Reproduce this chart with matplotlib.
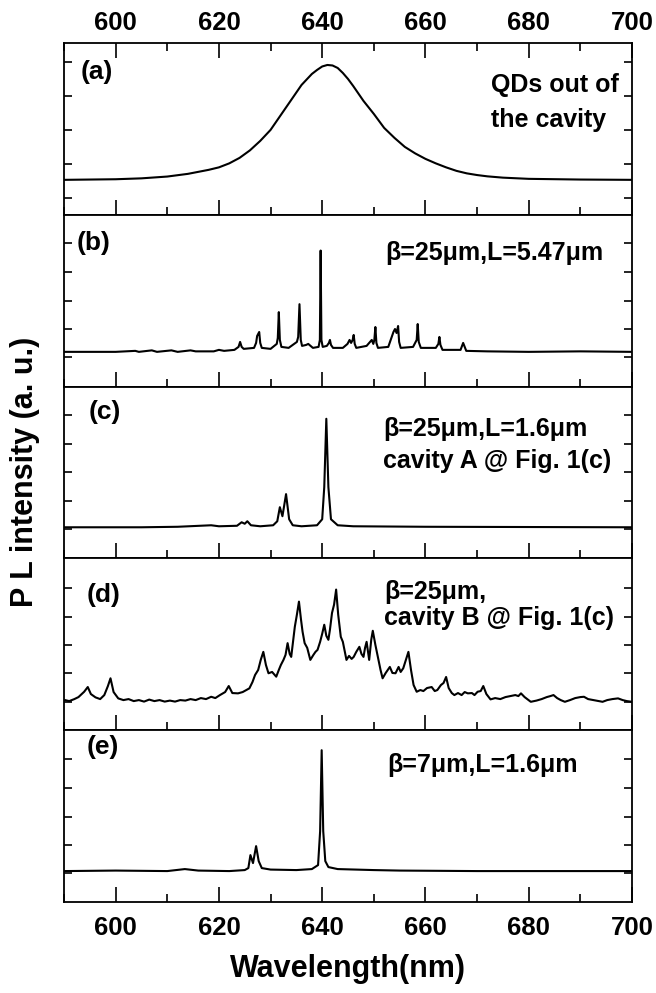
import matplotlib
matplotlib.use("Agg")
from matplotlib import pyplot as plt
from matplotlib.ticker import MultipleLocator

plt.rcParams['font.family'] = ['Liberation Sans', 'DejaVu Sans']
plt.rcParams['font.weight'] = 'bold'

# (a) QDs out of the cavity
wl_a = [590, 595, 600, 605, 610, 614, 618, 620, 622, 624, 626, 628, 630, 632, 634, 636, 638, 639,
        640, 641, 642, 643, 644, 645, 646, 648, 650, 652, 654, 656, 658, 660, 662, 664, 666, 668,
        670, 672, 675, 680, 690, 700]
pl_a = [0, 0.3, 0.6, 1.5, 3.3, 6, 10, 12.5, 16.5, 22, 29.5, 39, 50, 65, 80, 95, 106, 110,
        113.5, 115, 114.5, 112, 107, 101, 94, 79, 66, 52, 42, 33, 26.5, 21, 16.5, 12.5, 9, 6.5,
        4.8, 3.5, 2.2, 1, 0.3, 0]

# (b) beta=25um, L=5.47um
wl_b = [590, 600, 603.8, 604.5, 607, 608, 610.8, 612, 614.5, 615.5, 619, 620, 621, 623, 623.8, 624.1, 624.4,
        624.8, 626.8, 627.2, 627.4, 627.6, 627.8, 628.0, 628.3, 630, 631.2, 631.4, 631.6, 631.8, 632.1,
        633.5, 635.1, 635.35, 635.6, 635.85, 636.1, 636.9, 637.3, 638.2, 639.3, 639.55, 639.7, 639.85,
        640.1, 640.9, 641.3, 641.5, 641.7, 642.1, 644, 644.9, 645.3, 645.6, 645.9, 646.1, 646.3, 646.6,
        648.6, 649.6, 649.9, 650.1, 650.3, 650.5, 650.8, 652.8, 653.8, 654.1, 654.4, 654.7, 654.9, 655.2,
        657.6, 658.3, 658.5, 658.7, 659.1, 662.0, 662.5, 662.7, 662.9, 663.3, 666.8, 667.3, 667.9, 672,
        680, 690, 700]
pl_b = [0, 0, 1, 0, 1.5, 0, 1.5, 0, 1.5, 0.5, 0.5, 2, 1, 2, 5, 10, 5,
        3, 4, 9, 16, 18, 20, 9, 4, 3, 8, 14, 40, 12, 5,
        4, 10, 15, 48, 12, 6, 7, 8, 4, 5, 12, 102, 12,
        5, 6, 9, 12, 7, 4, 4, 8, 12, 9, 12, 17, 8, 4,
        6, 12, 8, 12, 25, 9, 4, 5, 20, 23, 19, 26, 10, 4,
        5, 12, 28, 10, 4, 4, 8, 15, 7, 2, 2, 9, 1, 0.5,
        0, 0.5, 0]

# (c) beta=25um, L=1.6um, cavity A
wl_c = [590, 605, 612, 618.5, 620, 623.5, 624.4, 625, 625.5, 626.2, 628, 630.5, 631.3, 631.8, 632.3,
        633.0, 633.6, 634.3, 636, 639, 640, 640.4, 640.8, 641.2, 641.7, 643, 646, 660, 700]
pl_c = [0, 0, 0.5, 2, 1, 1.5, 5, 3.5, 6, 2, 1, 2, 6, 20, 11,
        33, 8, 2, 1, 2, 8, 40, 108, 40, 8, 2, 1, 0.5, 0]

# (d) beta=25um, cavity B
wl_d = [590.2, 591, 592, 592.8, 593.9, 594.6, 595.2, 596.1, 597, 597.8, 598.5, 599.0, 599.6, 600.5,
        601.5, 602.5, 603.5, 604.5, 605.5, 606.5, 607.5, 608.5, 609.5, 610.5, 611.5, 612.5, 613.5,
        614.5, 615.5, 616.5, 617.5, 618.5, 619.3, 620.2, 621.2, 621.9, 622.6, 623.7, 624.6, 625.3,
        625.9, 626.5, 627.0, 627.6, 628.1, 628.6, 629.1, 629.6, 630.3, 631.1, 631.6, 632.0, 632.5,
        632.9, 633.3, 633.7, 634.0, 634.4, 634.7, 635.1, 635.5, 635.9, 636.2, 636.6, 637.1, 637.7,
        638.3, 638.7, 639.1, 639.6, 640.0, 640.4, 640.8, 641.2, 641.5, 641.9, 642.3, 642.7, 643.1,
        643.6, 644.0, 644.4, 644.7, 645.2, 645.7, 646.1, 646.6, 647.2, 647.6, 648.0, 648.3, 648.6,
        649.1, 649.5, 649.8, 650.3, 650.9, 651.3, 651.7, 652.3, 652.7, 653.1, 653.6, 654.2, 654.8,
        655.2, 655.7, 656.2, 656.7, 657.2, 657.7, 658.3, 659.0, 659.6, 660.3, 661.2, 661.8, 662.3,
        663.0, 663.5, 664.0, 664.5, 665.1, 665.6, 666.3, 667.0, 667.6, 668.2, 669.0, 669.5, 670.1,
        670.7, 671.2, 671.8, 672.6, 673.5, 674.5, 675.5, 676.5, 677.4, 678.0, 678.5, 679.2, 680.4,
        681.5, 682.5, 683.5, 684.2, 684.8, 685.5, 686.2, 687.0, 688, 689, 690.0, 690.7, 691.5, 692.5,
        693.5, 694.3, 695.2, 696.2, 697.3, 698.2, 699.0, 700]
pl_d = [0, -1, 1, 3, 8.3, 13, 6, 2.7, 1, 5, 14, 21.7, 8, 1.7,
        0, 1, -1, 0, -1.5, 0.5, -1, 0, -1.5, -0.5, -1.5, 0, -0.5,
        1, 0, 2, 1, 3.3, 2, 5, 8, 14, 7, 6.7, 8, 10,
        11.7, 18, 25, 30, 40, 48, 35, 26.7, 28, 23.3, 30, 35, 40,
        45, 56.7, 46, 43, 60, 73, 85, 98, 80, 68, 56.7, 52, 40,
        45, 48, 50, 58, 66, 75, 64, 60, 70, 86.7, 95, 110, 85,
        63, 58, 48, 40, 44, 41, 43, 48, 53, 46, 43, 52, 58,
        40, 60, 69, 55, 40, 30, 21.7, 27, 30, 33, 27, 26.7, 33,
        28, 31.7, 40, 48, 30, 15, 8.3, 10, 9, 12, 13, 9, 10,
        15, 17, 23, 12, 7, 5, 7, 5, 8, 6.7, 7, 5, 8.3,
        9, 14, 6, 0.7, 2, 1, 3, 4, 5, 4, 6.7, 3, -1.7,
        -0.5, 1, 3, 4, 5, 2, 0, -1.7, 0, 2, 3, 3.3, 1, 0,
        -1, -1.7, 0, 1, 1.7, 0, -1, -1.7]

# (e) beta=7um, L=1.6um
wl_e = [590, 600, 610, 613.4, 616, 622, 625, 625.7, 626.1, 626.6, 627.2, 627.7, 628.3, 630, 635, 638,
        639.2, 639.6, 639.9, 640.2, 640.6, 641.2, 643, 650, 655, 670, 700]
pl_e = [0, 0.5, 0, 2, 0.5, 0, 1, 3, 16, 8, 25, 10, 3, 1.5, 1, 2,
        6, 40, 121, 40, 10, 4, 2, 1, 0.5, 0, 0]

series = [(wl_a, pl_a), (wl_b, pl_b), (wl_c, pl_c), (wl_d, pl_d), (wl_e, pl_e)]
ylims = [(-35, 137), (-35, 138), (-31, 140), (-30, 141), (-31, 141)]
yticks = [[-18, 16, 50, 84, 118], [-5, 23, 51, 80, 110], [-2, 26, 55, 83, 112],
          [-2, 27, 55, 83, 112], [-2, 26, 54, 83, 112]]
panel_labels = ["(a)", "(b)", "(c)", "(d)", "(e)"]
label_pos = [(0.030, 0.831), (0.023, 0.838), (0.044, 0.854), (0.040, 0.789), (0.040, 0.901)]
notes = [
    [("QDs out of", 0.752, 0.756), ("the cavity", 0.752, 0.552)],
    [("β=25μm,L=5.47μm", 0.565, 0.78)],
    [("β=25μm,L=1.6μm", 0.562, 0.754), ("cavity A @ Fig. 1(c)", 0.562, 0.567)],
    [("β=25μm,", 0.564, 0.805), ("cavity B @ Fig. 1(c)", 0.564, 0.652)],
    [("β=7μm,L=1.6μm", 0.569, 0.797)],
]

fig, axes = plt.subplots(5, 1, figsize=(6.56, 9.93), dpi=100, sharex=True)
fig.subplots_adjust(left=0.0976, right=0.9634, top=0.9567, bottom=0.0916, hspace=0)

for i, ax in enumerate(axes):
    x, y = series[i]
    ax.plot(x, y, color='black', lw=1.5)
    ax.set_xlim(590, 700)
    ax.set_ylim(*ylims[i])
    ax.set_yticks(yticks[i])
    ax.set_yticklabels([])
    ax.xaxis.set_major_locator(MultipleLocator(20))
    ax.xaxis.set_minor_locator(MultipleLocator(10))
    ax.tick_params(axis='x', which='major', direction='in', length=11, width=1.2,
                   top=(i == 0), bottom=True, labeltop=(i == 0), labelbottom=(i == 4),
                   labelsize=18.5, pad=10)
    ax.tick_params(axis='x', which='minor', direction='in', length=6, width=1.2,
                   top=(i == 0), bottom=True)
    ax.tick_params(axis='y', which='major', direction='in', length=6, width=1.2,
                   left=True, right=True)
    for s in ax.spines.values():
        s.set_linewidth(1.3)
    ax.text(label_pos[i][0], label_pos[i][1], panel_labels[i], transform=ax.transAxes,
            fontsize=19, ha='left', va='center')
    for txt, tx, ty in notes[i]:
        ax.text(tx, ty, txt, transform=ax.transAxes, fontsize=18, ha='left', va='center')

# top labels sit a little closer to panel (a)
axes[0].tick_params(axis='x', which='major', pad=6)

axes[-1].set_xlabel("Wavelength(nm)", fontsize=22, fontweight='bold', labelpad=10)
fig.text(0.038, 0.5247, "P L intensity (a. u.)", rotation=90, fontsize=22,
         fontweight='bold', ha='center', va='center')

fig.savefig("out.png", dpi=100)
